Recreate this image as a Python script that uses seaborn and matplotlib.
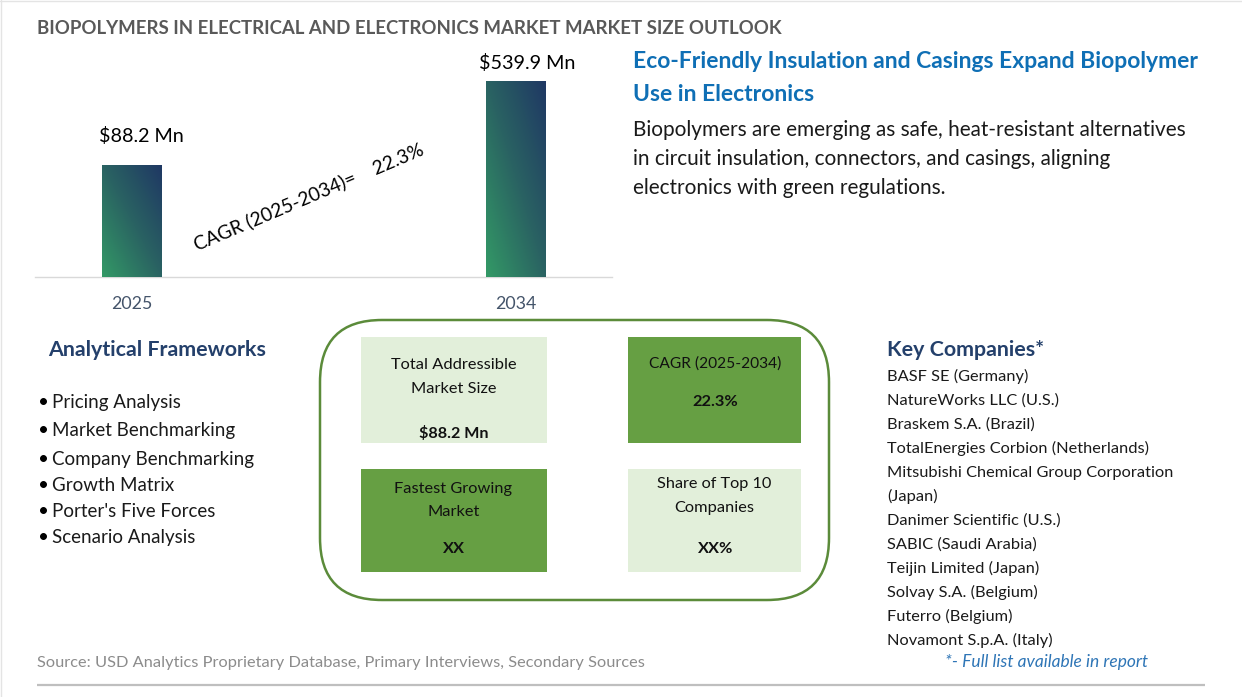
import numpy as np
import pandas as pd
import matplotlib
matplotlib.use("Agg")
import matplotlib.pyplot as plt
from matplotlib.colors import LinearSegmentedColormap
from matplotlib.patches import FancyBboxPatch, Rectangle
import seaborn as sns

sns.set_theme(style="white")
plt.rcParams["font.family"] = ["Lato", "DejaVu Sans"]

TITLE = "BIOPOLYMERS IN ELECTRICAL AND ELECTRONICS MARKET MARKET SIZE OUTLOOK"
years = ["2025", "2034"]
bar_labels = ["$88.2 Mn", "$539.9 Mn"]
# schematic bar heights as drawn in the picture (not to scale with the labels)
bar_heights = [112, 196]
cagr_text = "CAGR (2025-2034)=    22.3%"
head_lines = ["Eco-Friendly Insulation and Casings Expand Biopolymer", "Use in Electronics"]
body_lines = ["Biopolymers are emerging as safe, heat-resistant alternatives",
              "in circuit insulation, connectors, and casings, aligning",
              "electronics with green regulations."]
frameworks = ["Pricing Analysis", "Market Benchmarking", "Company Benchmarking",
              "Growth Matrix", "Porter's Five Forces", "Scenario Analysis"]
companies = ["BASF SE (Germany)", "NatureWorks LLC (U.S.)", "Braskem S.A. (Brazil)",
             "TotalEnergies Corbion (Netherlands)", "Mitsubishi Chemical Group Corporation",
             "(Japan)", "Danimer Scientific (U.S.)", "SABIC (Saudi Arabia)",
             "Teijin Limited (Japan)", "Solvay S.A. (Belgium)", "Futerro (Belgium)",
             "Novamont S.p.A. (Italy)"]

W, H = 1242, 697
fig = plt.figure(figsize=(W / 100, H / 100), dpi=100, facecolor="white")

# page layer in pixel coordinates
pg = fig.add_axes([0, 0, 1, 1], zorder=0)
pg.set_xlim(0, W); pg.set_ylim(H, 0); pg.axis("off")

def T(x, y, s, size, color="black", weight="normal", ha="left", style="normal", rot=0):
    pg.text(x, y, s, fontsize=size, color=color, fontweight=weight, ha=ha, va="center",
            fontstyle=style, rotation=rot, rotation_mode="anchor", zorder=5)

# bar chart
x0, x1, base, top = 35, 611.5, 277, 40
ax = fig.add_axes([x0 / W, 1 - base / H, (x1 - x0) / W, (base - top) / H], zorder=1)
ax.patch.set_alpha(0)
df = pd.DataFrame({"year": years, "height": bar_heights})
sns.barplot(data=df, x="year", y="height", ax=ax, width=60 / 384, color="#2a6a68", saturation=1)
ax.set_xlabel(""); ax.set_ylabel(""); ax.set_yticks([])
ax.tick_params(axis="x", length=0, pad=14, labelsize=12.8, labelcolor="#44546A")
for s in ["top", "left", "right"]:
    ax.spines[s].set_visible(False)
ax.spines["bottom"].set_color("#D9D9D9"); ax.spines["bottom"].set_linewidth(1)

cmap = LinearSegmentedColormap.from_list("g", ["#339966", "#2A6362", "#1F3864"])
u, v = np.meshgrid(np.linspace(0, 1, 64), np.linspace(0, 1, 64))
for bar in ax.patches:
    bx, bw, bh = bar.get_x(), bar.get_width(), bar.get_height()
    im = ax.imshow((u + v) / 2, extent=[bx, bx + bw, 0, bh], origin="lower", cmap=cmap,
                   aspect="auto", zorder=3, vmin=0, vmax=1)
    im.set_clip_path(bar)
ax.set_xlim((x0 - 132) / 384, (x1 - 132) / 384)
ax.set_ylim(0, base - top)
for i, (lab, dx, dy) in enumerate(zip(bar_labels, [9, 11.5], [29, 18])):
    ax.annotate(lab, xy=(i, bar_heights[i]), xytext=(dx, dy), textcoords="offset pixels",
                ha="center", va="center", fontsize=14.2, color="black", zorder=6)

T(195, 245, cagr_text, 13.9, rot=23)

T(37, 28, TITLE, 13.45, color="#595959", weight="bold")
for y, s in zip([61.5, 94.5], head_lines):
    T(633, y, s, 16.5, color="#0F6FB5", weight="bold")
for y, s in zip([130, 159, 188], body_lines):
    T(633, y, s, 14.95, color="#1a1a1a")

T(48, 350, "Analytical Frameworks", 15.4, color="#24406B", weight="bold")
for y, s in zip([402.5, 430.5, 459, 485.5, 511.5, 537], frameworks):
    T(38, y, "•", 13.5)
    T(52, y, s, 13.5, color="#1a1a1a")

# centre panel
pg.add_patch(FancyBboxPatch((320 + 62, 320 + 62), 509 - 124, 280 - 124,
                            boxstyle="round,pad=62", fc="white", ec="#5B8B3A", lw=1.8))
LIGHT, DARK = "#E2EFDA", "#669F43"
for (a, b, c, d, col) in [(361, 337, 547, 443, LIGHT), (628, 337, 801, 443, DARK),
                          (361, 469, 547, 572, DARK), (628, 469, 801, 572, LIGHT)]:
    pg.add_patch(Rectangle((a, b), c - a, d - b, fc=col, ec="none", zorder=2))
for cx, y, s, w, fs in [(453.5, 365, "Total Addressible", "normal", 11.8),
                        (453.5, 389, "Market Size", "normal", 11.8),
                        (453.5, 433, "$88.2 Mn", "bold", 11.6),
                        (715.5, 364, "CAGR (2025-2034)", "normal", 11.2),
                        (715.5, 402, "22.3%", "bold", 11.8),
                        (453.5, 488.5, "Fastest Growing", "normal", 11.8),
                        (453.5, 512, "Market", "normal", 11.8),
                        (453.5, 549, "XX", "bold", 11.8),
                        (714.5, 484, "Share of Top 10", "normal", 11.7),
                        (714.5, 508, "Companies", "normal", 11.8),
                        (715.5, 549, "XX%", "bold", 11.8)]:
    T(cx, y, s, fs, ha="center", weight=w, color="#111111")

T(887, 350, "Key Companies*", 15.4, color="#24406B", weight="bold")
for i, s in enumerate(companies):
    T(887, 376.5 + 24 * i, s, 11.83, color="#1a1a1a")
T(945, 661.5, "*- Full list available in report", 12.55, color="#2E75B6", style="italic")
T(37, 663, "Source: USD Analytics Proprietary Database, Primary Interviews, Secondary Sources", 11.78, color="#8C8C8C")
pg.plot([37, 1205], [684.5, 684.5], color="#BFBFBF", lw=1.6, solid_capstyle="butt")
pg.plot([0.5, 0.5], [0, H], color="#E4E4E4", lw=1)
pg.plot([0, W], [0.5, 0.5], color="#E4E4E4", lw=1)

fig.savefig("out.png", dpi=100, facecolor="white")
